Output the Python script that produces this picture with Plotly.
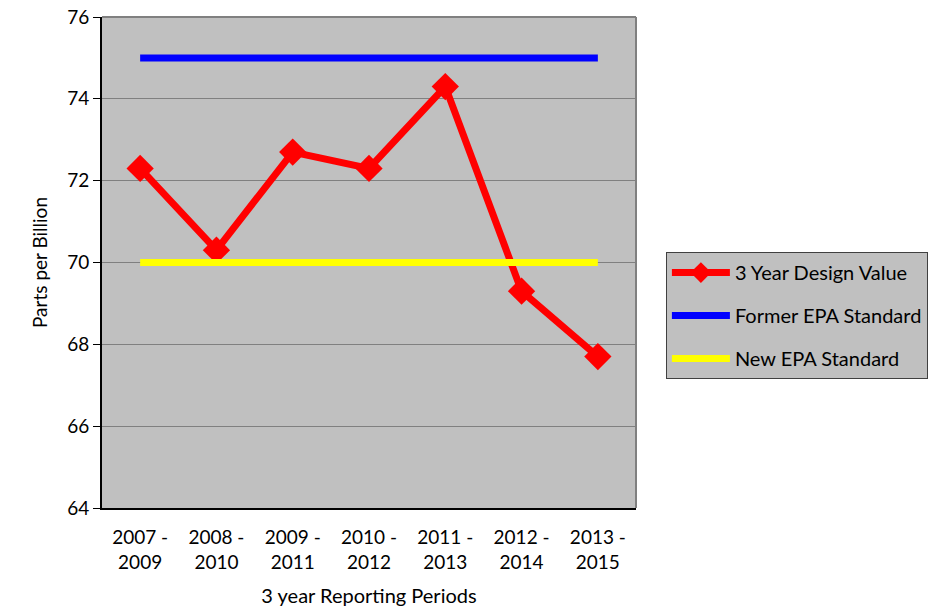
import plotly.graph_objects as go

periods = ["2007 -<br>2009", "2008 -<br>2010", "2009 -<br>2011", "2010 -<br>2012",
           "2011 -<br>2013", "2012 -<br>2014", "2013 -<br>2015"]
design_values = [72.3, 70.3, 72.7, 72.3, 74.3, 69.3, 67.7]
former_standard = [75, 75, 75, 75, 75, 75, 75]
new_standard = [70, 70, 70, 70, 70, 70, 70]

FONT = "Lato"

fig = go.Figure()
fig.add_trace(go.Scatter(
    x=periods, y=design_values, name="3 Year Design Value", legendgroup="a",
    mode="lines+markers",
    line=dict(color="#ff0000", width=7),
    marker=dict(symbol="diamond", size=21, color="#ff0000"),
))
fig.add_trace(go.Scatter(
    x=periods, y=former_standard, name="Former EPA Standard", legendgroup="b",
    mode="lines", line=dict(color="#0000ff", width=7),
))
fig.add_trace(go.Scatter(
    x=periods, y=new_standard, name="New EPA Standard", legendgroup="c",
    mode="lines", line=dict(color="#ffff00", width=7),
))

fig.update_layout(
    width=951, height=608,
    margin=dict(l=102, r=315, t=17, b=100, autoexpand=False),
    paper_bgcolor="white",
    plot_bgcolor="#c0c0c0",
    font=dict(family=FONT, size=19, color="#000000"),
    showlegend=True,
    legend=dict(
        x=1.056, y=0.392, xanchor="left", yanchor="middle",
        bgcolor="#c0c0c0", bordercolor="#404040", borderwidth=1,
        font=dict(family=FONT, size=20, color="#000000"),
        traceorder="grouped", tracegroupgap=14, itemwidth=58,
    ),
    xaxis=dict(
        type="category", range=[-0.5, 6.5], automargin=False,
        showgrid=False, showline=True, linecolor="#000000", linewidth=2,
        mirror=False, ticks="outside", ticklen=11, tickcolor="rgba(0,0,0,0)",
        tickfont=dict(size=19),
        title=dict(text="3 year Reporting Periods", font=dict(size=20), standoff=17),
        zeroline=False,
    ),
    yaxis=dict(
        range=[64, 76], dtick=2, tick0=64, automargin=False,
        showgrid=True, gridcolor="#808080", gridwidth=1,
        showline=True, linecolor="#000000", linewidth=2,
        ticks="outside", ticklen=7, tickcolor="#000000",
        tickfont=dict(size=19), ticklabeloverflow="allow",
        title=dict(text="Parts per Billion", font=dict(size=19), standoff=15),
        zeroline=False,
    ),
    shapes=[
        dict(type="line", xref="paper", yref="paper", x0=0, x1=1, y0=1, y1=1,
             line=dict(color="#808080", width=2)),
        dict(type="line", xref="paper", yref="paper", x0=1, x1=1, y0=0, y1=1,
             line=dict(color="#808080", width=2)),
    ],
)

fig.write_html("out.html", config={"displayModeBar": False},
               post_script="document.body.style.margin='0px';")
